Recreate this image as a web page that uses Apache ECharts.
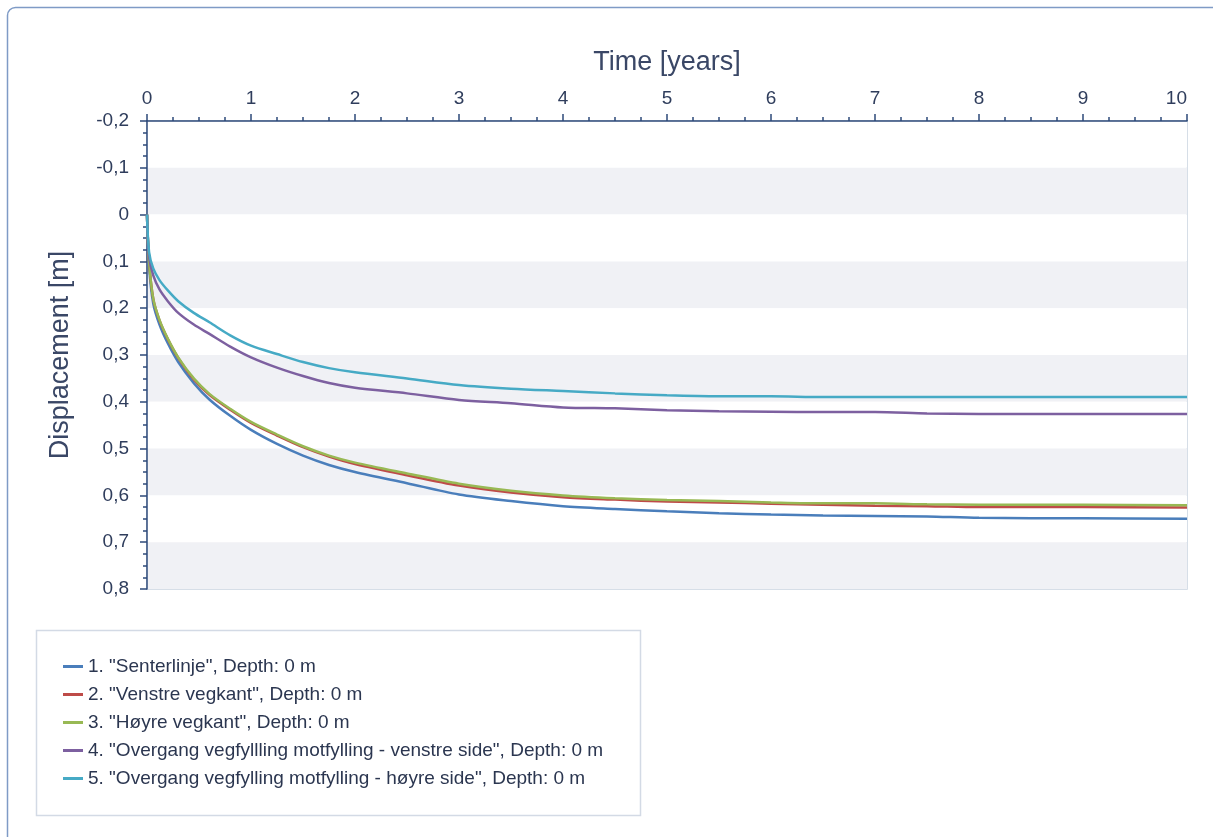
<!DOCTYPE html>
<html>
<head>
<meta charset="utf-8">
<script src="https://cdn.jsdelivr.net/npm/echarts@6/dist/echarts.min.js"></script>
<style>
  html, body { margin: 0; padding: 0; background: #ffffff; }
  #chart { width: 1213px; height: 837px; }
</style>
</head>
<body>
<div id="chart"></div>
<script>
// Settlement over time at the road surface (depth 0 m), five measuring points
const timeYears = [0, 0.02, 0.06, 0.12, 0.2, 0.3, 0.45, 0.6, 0.8, 1.0, 1.25, 1.5, 1.75, 2.0, 2.5, 3.0, 3.5, 4.0, 4.5, 5.0, 5.5, 6.0, 6.5, 7.0, 7.5, 8.0, 9.0, 10.0];

const senterlinje = [0, 0.11, 0.19, 0.235, 0.275, 0.315, 0.36, 0.395, 0.43, 0.46, 0.49, 0.515, 0.535, 0.55, 0.574, 0.598, 0.612, 0.623, 0.629, 0.634, 0.638, 0.641, 0.643, 0.644, 0.645, 0.648, 0.649, 0.650];
const venstreVegkant = [0, 0.10, 0.18, 0.226, 0.266, 0.306, 0.352, 0.385, 0.417, 0.445, 0.472, 0.497, 0.517, 0.533, 0.557, 0.579, 0.594, 0.604, 0.609, 0.613, 0.615, 0.618, 0.620, 0.622, 0.623, 0.625, 0.625, 0.626];
const hoyreVegkant = [0, 0.10, 0.18, 0.225, 0.265, 0.305, 0.350, 0.383, 0.415, 0.443, 0.470, 0.495, 0.515, 0.530, 0.553, 0.575, 0.590, 0.600, 0.606, 0.610, 0.612, 0.615, 0.617, 0.617, 0.619, 0.620, 0.620, 0.621];
const overgangVenstre = [0, 0.09, 0.13, 0.16, 0.185, 0.21, 0.235, 0.255, 0.282, 0.305, 0.327, 0.345, 0.36, 0.37, 0.382, 0.396, 0.403, 0.412, 0.414, 0.418, 0.420, 0.421, 0.422, 0.422, 0.425, 0.426, 0.426, 0.426];
const overgangHoyre = [0, 0.08, 0.115, 0.14, 0.162, 0.185, 0.21, 0.23, 0.258, 0.28, 0.298, 0.315, 0.328, 0.337, 0.35, 0.364, 0.372, 0.377, 0.382, 0.386, 0.388, 0.388, 0.390, 0.390, 0.390, 0.390, 0.390, 0.390];

const seriesNames = [
  '1. "Senterlinje", Depth: 0 m',
  '2. "Venstre vegkant", Depth: 0 m',
  '3. "Høyre vegkant", Depth: 0 m',
  '4. "Overgang vegfyllling motfylling - venstre side", Depth: 0 m',
  '5. "Overgang vegfylling motfylling - høyre side", Depth: 0 m'
];
const seriesValues = [senterlinje, venstreVegkant, hoyreVegkant, overgangVenstre, overgangHoyre];
const seriesColors = ['#4a7ebb', '#be4b48', '#98b954', '#7d60a0', '#46aac5'];

const FONT = '"Liberation Sans", Arial, sans-serif';
const axisColor = '#2e4a7a';
const textColor = '#2f3d5c';

function commaLabel(v) {
  const r = Math.round(v * 10) / 10;
  if (r === 0) return '0';
  return r.toFixed(1).replace('.', ',');
}

const chart = echarts.init(document.getElementById('chart'), null, { renderer: 'canvas' });

chart.setOption({
  animation: false,
  backgroundColor: '#ffffff',
  textStyle: { fontFamily: FONT },
  graphic: [
    {
      type: 'rect',
      shape: { x: 7.5, y: 7.5, width: 1240, height: 860, r: 8 },
      style: { fill: 'none', stroke: '#7f9bc6', lineWidth: 1.5 },
      silent: true, z: -1
    },
    {
      type: 'rect',
      shape: { x: 36.5, y: 630.5, width: 604, height: 185 },
      style: { fill: 'none', stroke: '#d3dae5', lineWidth: 1.5 },
      silent: true, z: -1
    }
  ],
  grid: {
    left: 147, top: 121, width: 1040, height: 468,
    show: true, borderColor: '#c9d3e0', borderWidth: 1.5, backgroundColor: 'transparent'
  },
  legend: {
    orient: 'vertical',
    left: 58, top: 651,
    icon: 'rect',
    itemWidth: 20, itemHeight: 3,
    itemGap: 7,
    textStyle: { fontFamily: FONT, fontSize: 19, color: '#2b3650', lineHeight: 21 },
    data: seriesNames
  },
  xAxis: {
    type: 'value',
    position: 'top',
    min: 0, max: 10, interval: 1,
    name: 'Time [years]',
    nameLocation: 'middle',
    nameGap: 45,
    nameTextStyle: { fontFamily: FONT, fontSize: 27, color: '#3a4766' },
    axisLine: { show: true, onZero: false, lineStyle: { color: axisColor, width: 1.5 } },
    axisTick: { show: true, length: 7, lineStyle: { color: axisColor, width: 1.5 } },
    minorTick: { show: true, splitNumber: 4, length: 4, lineStyle: { color: axisColor, width: 1.5 } },
    axisLabel: { fontFamily: FONT, fontSize: 19, color: textColor, margin: 13, alignMaxLabel: 'right' },
    splitLine: { show: false }
  },
  yAxis: {
    type: 'value',
    inverse: true,
    min: -0.2, max: 0.8, interval: 0.1,
    name: 'Displacement [m]',
    nameLocation: 'middle',
    nameGap: 73,
    nameRotate: 90,
    nameTextStyle: { fontFamily: FONT, fontSize: 27, color: '#3a4766' },
    axisLine: { show: true, onZero: false, lineStyle: { color: axisColor, width: 1.5 } },
    axisTick: { show: true, length: 7, lineStyle: { color: axisColor, width: 1.5 } },
    minorTick: { show: true, splitNumber: 4, length: 4, lineStyle: { color: axisColor, width: 1.5 } },
    axisLabel: { fontFamily: FONT, fontSize: 19, color: textColor, margin: 18, formatter: commaLabel },
    splitLine: { show: false },
    splitArea: { show: true, areaStyle: { color: ['#ffffff', '#f0f1f5'] } }
  },
  series: seriesNames.map((name, i) => ({
    name: name,
    type: 'line',
    data: timeYears.map((t, k) => [t, seriesValues[i][k]]),
    showSymbol: false,
    symbol: 'none',
    smooth: 0.3,
    color: seriesColors[i],
    lineStyle: { width: 2.5, color: seriesColors[i] }
  }))
});
</script>
</body>
</html>
